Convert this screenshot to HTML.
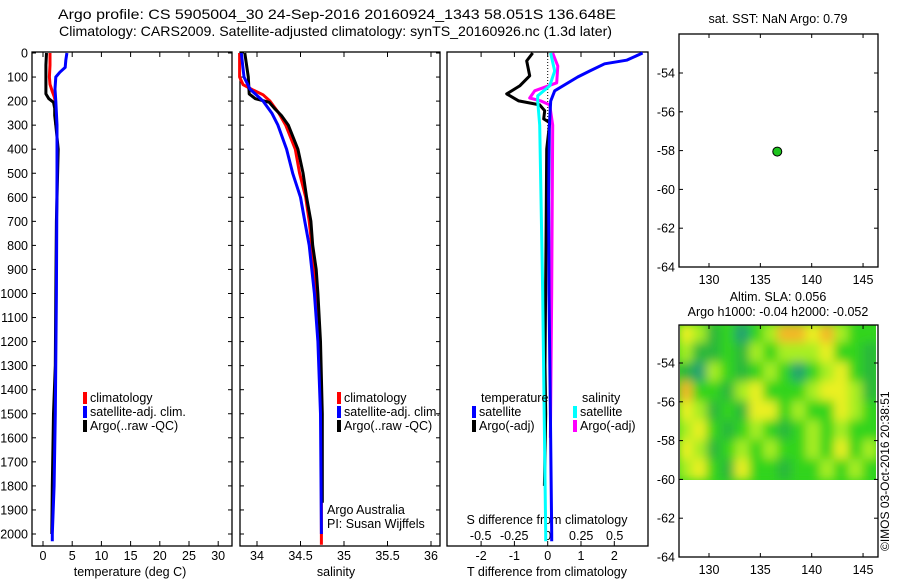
<!DOCTYPE html>
<html><head><meta charset="utf-8">
<style>
html,body{margin:0;padding:0;background:#fff;}
svg{display:block;font-family:"Liberation Sans",sans-serif;}
</style></head>
<body>
<svg id="c" width="900" height="580" viewBox="0 0 900 580">
<defs>
<filter id="blur" x="-5%" y="-5%" width="110%" height="110%"><feGaussianBlur stdDeviation="5"/></filter>
<clipPath id="hmclip"><rect x="680" y="325" width="196" height="155"/></clipPath>
</defs>
<text x="58" y="19" font-size="14" textLength="558" lengthAdjust="spacingAndGlyphs">Argo profile: CS 5905004_30 24-Sep-2016 20160924_1343 58.051S 136.648E</text>
<text x="59" y="36" font-size="14" textLength="553" lengthAdjust="spacingAndGlyphs">Climatology: CARS2009. Satellite-adjusted climatology: synTS_20160926.nc (1.3d later)</text>
<text transform="translate(889,551) rotate(-90)" font-size="12">©IMOS 03-Oct-2016 20:38:51</text>
<g id="g"></g>
</svg>
<script>
// ---- data ----
const depthTicks=[0,100,200,300,400,500,600,700,800,900,1000,1100,1200,1300,1400,1500,1600,1700,1800,1900,2000];
const tempTicks=[0,5,10,15,20,25,30];
const salTicks=[34,34.5,35,35.5,36];
const salTickLabels=["34","34.5","35","35.5","36"];
const dTTicks=[-2,-1,0,1,2];
const dSTicks=[-0.5,-0.25,0,0.25,0.5];
const dSTickLabels=["-0.5","-0.25","0","0.25","0.5"];

const tClimDepth=[0,50,100,130,160,180,200,250,300];
const tClim=[1.2,1.2,1.1,1.2,1.6,1.9,2.1,2.2,2.2];
const tSatDepth=[0,30,60,80,100,150,200,300,500,1000,1500,1800,2000,2030];
const tSat=[4.1,3.9,3.8,2.9,2.2,2.05,2.2,2.4,2.4,2.3,2.1,1.9,1.6,1.6];
const tArgoDepth=[0,50,100,170,190,205,230,260,300,400,500,700,1000,1300,1500,1800,2000];
const tArgo=[0.6,0.5,0.5,0.5,1.0,1.8,2.0,2.0,2.2,2.6,2.5,2.3,2.2,2.1,1.8,1.6,1.5];

const sClimDepth=[0,100,132,153,174,200,250,300,400,500,600,700,800,1000,1200,1500,2000,2045];
const sClim=[33.8,33.8,33.84,33.95,34.07,34.15,34.25,34.33,34.44,34.49,34.56,34.6,34.63,34.69,34.72,34.74,34.74,34.74];
const sSatDepth=[0,100,150,200,250,300,400,500,600,700,800,900,1000,1200,1500,2000];
const sSat=[33.82,33.85,33.92,34.07,34.17,34.24,34.34,34.41,34.5,34.55,34.6,34.63,34.66,34.7,34.73,34.74];
const sArgoDepth=[0,100,170,190,205,230,260,300,400,500,600,700,800,900,1000,1200,1500,1870];
const sArgo=[33.86,33.9,33.91,33.98,34.14,34.2,34.28,34.36,34.47,34.53,34.57,34.62,34.64,34.68,34.7,34.73,34.75,34.75];

const dTSatDepth=[0,30,45,75,100,157,200,300,600,1000,1500,2000,2030];
const dTSat=[2.85,2.37,1.71,1.26,0.9,0.21,0.09,0.05,0.03,0.04,0.08,0.12,0.12];
const dTArgoDepth=[0,33,95,137,170,199,216,240,274,290,400,800,1300,1500,1800];
const dTArgo=[-0.45,-0.63,-0.54,-0.84,-1.23,-0.87,-0.24,-0.09,-0.12,0.06,-0.03,-0.05,-0.08,-0.06,-0.1];
const dSSatDepth=[0,75,137,178,200,300,1000,2000,2030];
const dSSat=[0.022,0.052,0.015,-0.075,-0.075,-0.06,-0.037,-0.015,-0.015];
const dSArgoDepth=[0,54,124,157,187,199,216,300,1000,1600];
const dSArgo=[0.037,0.075,0.067,-0.097,-0.134,-0.052,0.015,0.037,0.03,0.02];

const lonTicks=[130,135,140,145];
const latTicks=[-54,-56,-58,-60,-62,-64];
const latTickLabels=["-54","-56","-58","-60","-62","-64"];
const argoLon=136.648, argoLat=-58.051;
// SLA field levels (rows lat -52..-60, cols lon 127.1..146.4)
const slaRows=[
[4,3,1,2,0,2,3,5,5,4,5,3,2,2],
[3,1,1,2,1,3,2,3,3,3,4,2,2,1],
[1,0,3,2,1,2,3,2,0,2,3,4,2,1],
[5,2,2,1,3,4,2,2,2,3,4,4,3,1],
[4,3,1,2,1,4,4,2,3,2,2,4,3,2],
[3,4,2,1,2,3,2,1,2,3,2,3,2,2],
[4,3,1,2,3,2,3,2,2,3,2,4,2,3],
[3,4,2,1,4,2,2,1,2,2,3,2,3,2]];
const slaColors=["#22a070","#2cb83a","#30d41e","#a8ee22","#eaf020","#f2b828"];

// ---- drawing ----
const NS="http://www.w3.org/2000/svg";
const G=document.getElementById('g');
function el(t,a,p){const e=document.createElementNS(NS,t);for(const k in a)e.setAttribute(k,a[k]);(p||G).appendChild(e);return e;}
const yD=d=>53+d*0.2405;
const xT=v=>43+v*5.84;
const xS=v=>257+(v-34)*87;
const xDT=v=>547.7+v*33.3;
const xDS=v=>547.7+v*134;
const mLon=v=>709+(v-130)*10.27;
const m1Lat=v=>73+(-54-v)*19.4;
const m2Lat=v=>363+(-54-v)*19.4;

function panel(x0,x1,name){
  el('rect',{x:x0,y:52,width:x1-x0,height:494,fill:'none',stroke:'#000','stroke-width':1.3,});
}
panel(32,232,'temperature-panel');panel(240,440,'salinity-panel');panel(447,648,'difference-panel');

depthTicks.forEach(d=>{
  const y=yD(d);
  const t=el('text',{x:28,y:y+4.5,'font-size':12.5,'text-anchor':'end'});t.textContent=d;
  
  
  [[32,36],[228,232],[240,244],[436,440]].forEach(p=>el('line',{x1:p[0],x2:p[1],y1:y,y2:y,stroke:'#000'}));
});
function xticks(vals,labels,fx,ylab,top){
  vals.forEach((v,i)=>{const x=fx(v);
    el('line',{x1:x,x2:x,y1:546,y2:541,stroke:'#000'});
    if(top)el('line',{x1:x,x2:x,y1:52,y2:57,stroke:'#000'});
    const t=el('text',{x:x,y:ylab,'font-size':12.5,'text-anchor':'middle'});t.textContent=labels[i];
    
    
  });
}
xticks(tempTicks,tempTicks.map(String),xT,560,true);
xticks(salTicks,salTickLabels,xS,560,true);
xticks(dTTicks,dTTicks.map(String),xDT,560,true);
dSTicks.forEach((v,i)=>{const t=el('text',{x:xDS(v),y:540,'font-size':12.5,'text-anchor':'middle'});t.textContent=dSTickLabels[i];
  
  });
function label(x,y,s,name,anchor){const t=el('text',{x:x,y:y,'font-size':12.5,'text-anchor':anchor||'middle'});t.textContent=s;
  
  return t;}
label(130,576,'temperature (deg C)','x-axis-title-temperature');
label(336,576,'salinity','x-axis-title-salinity');
label(547,576,'T difference from climatology','x-axis-title-t-diff');
label(547,524,'S difference from climatology','axis-title-s-diff');
label(327,514,'Argo Australia','credit-argo-australia','start');
label(327,528,'PI: Susan Wijffels','credit-pi','start');

// zero line
el('line',{x1:547.7,x2:547.7,y1:53,y2:150,stroke:'#000','stroke-dasharray':'1,2'});

function series(ds,vs,fx,col,name,w){
  const pts=ds.map((d,i)=>fx(vs[i]).toFixed(1)+','+yD(d).toFixed(1)).join(' ');
  const p=el('polyline',{points:pts,fill:'none',stroke:col,'stroke-width':w||3,'stroke-linejoin':'round'});
  
  
}
series(tClimDepth,tClim,xT,'#f00','temp-climatology-line');
series(tArgoDepth,tArgo,xT,'#000','temp-argo-line');
series(tSatDepth,tSat,xT,'#00f','temp-satellite-line');
series(sClimDepth,sClim,xS,'#f00','sal-climatology-line');
series(sArgoDepth,sArgo,xS,'#000','sal-argo-line');
series(sSatDepth,sSat,xS,'#00f','sal-satellite-line');
series(dTArgoDepth,dTArgo,xDT,'#000','dt-argo-line');
series(dSArgoDepth,dSArgo,xDS,'#f0f','ds-argo-line');
series(dSSatDepth,dSSat,xDS,'#0ff','ds-satellite-line');
series(dTSatDepth,dTSat,xDT,'#00f','dt-satellite-line');

function legend(x,y,col,s,name){
  el('rect',{x:x,y:y-10,width:4,height:12,fill:col});
  label(x+7,y,s,name,'start');
}
legend(83,402,'#f00','climatology','legend-temp-climatology');
legend(83,416,'#00f','satellite-adj. clim.','legend-temp-satellite');
legend(83,430,'#000','Argo(..raw -QC)','legend-temp-argo');
legend(337,402,'#f00','climatology','legend-sal-climatology');
legend(337,416,'#00f','satellite-adj. clim.','legend-sal-satellite');
legend(337,430,'#000','Argo(..raw -QC)','legend-sal-argo');
label(481,402,'temperature','legend-title-temperature','start');
label(582,402,'salinity','legend-title-salinity','start');
legend(472,416,'#00f','satellite','legend-dt-satellite');
legend(472,430,'#000','Argo(-adj)','legend-dt-argo');
legend(573,416,'#0ff','satellite','legend-ds-satellite');
legend(573,430,'#f0f','Argo(-adj)','legend-ds-argo');

// maps
function mapFrame(y0,y1,fy,name){
  el('rect',{x:679,y:y0,width:199,height:y1-y0,fill:'none',stroke:'#000','stroke-width':1.3,});
  lonTicks.forEach(v=>{const x=mLon(v);
    el('line',{x1:x,x2:x,y1:y1,y2:y1-4,stroke:'#000'});el('line',{x1:x,x2:x,y1:y0,y2:y0+4,stroke:'#000'});
    const t=el('text',{x:x,y:y1+17,'font-size':12.5,'text-anchor':'middle'});t.textContent=v;
    
    });
  latTicks.forEach((v,i)=>{const y=fy(v);
    el('line',{x1:679,x2:683,y1:y,y2:y,stroke:'#000'});el('line',{x1:874,x2:878,y1:y,y2:y,stroke:'#000'});
    const t=el('text',{x:675,y:y+4.5,'font-size':12.5,'text-anchor':'end'});t.textContent=latTickLabels[i];
    
    });
}
label(778,23,'sat. SST: NaN Argo: 0.79','sst-map-title');
mapFrame(34,267,m1Lat,'sst-map');
const pt=el('circle',{cx:mLon(argoLon),cy:m1Lat(argoLat),r:4.5,fill:'#1ec41e',stroke:'#000','stroke-width':1});



label(778,301,'Altim. SLA: 0.056','sla-map-title-1');
label(778,316,'Argo h1000: -0.04 h2000: -0.052','sla-map-title-2');
const hm=el('g',{'clip-path':'url(#hmclip)'});


el('rect',{x:679,y:324,width:199,height:157,fill:slaColors[2]},hm);
const hb=el('g',{filter:'url(#blur)'},hm);
const nC=slaRows[0].length, lon0=127.1, lon1=146.4, dLon=(lon1-lon0)/nC;
slaRows.forEach((row,r)=>row.forEach((v,c)=>{
  const x=mLon(lon0+c*dLon), x2=mLon(lon0+(c+1)*dLon);
  const y=m2Lat(-52-r), y2=m2Lat(-53-r);
  const cell=el('rect',{x:x-1,y:y-1,width:x2-x+2,height:y2-y+2,fill:slaColors[v]},hb);
  
  
}));
mapFrame(325,557,m2Lat,'sla-map');
</script>
</body></html>
